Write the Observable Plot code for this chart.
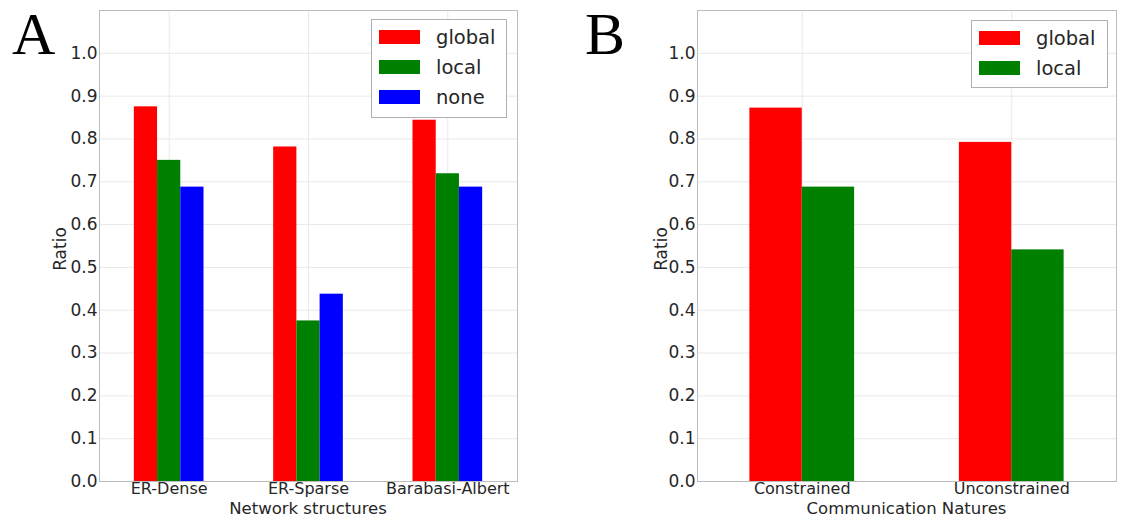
<!DOCTYPE html>
<html>
<head>
<meta charset="utf-8">
<script src="https://cdn.jsdelivr.net/npm/d3@7"></script>
<script src="https://cdn.jsdelivr.net/npm/@observablehq/plot@0.6"></script>
<style>
  html, body { margin: 0; padding: 0; background: #fff; }
  #root { position: relative; width: 1121px; height: 519px; overflow: hidden; font-family: "DejaVu Sans", sans-serif; color: #262626; }
  .panel { position: absolute; top: 0; }
  .letter { position: absolute; font-family: "Liberation Serif", "DejaVu Serif", serif; font-size: 60px; line-height: 1; color: #000; }
  .xlab { position: absolute; font-size: 16.5px; line-height: 16.5px; text-align: center; white-space: nowrap; }
  .ylab { position: absolute; font-size: 17px; line-height: 17px; white-space: nowrap; transform: translate(-50%, -50%) rotate(-90deg); }
  .legend { position: absolute; border: 1px solid #b0b0b0; background: #fff; box-sizing: border-box; }
  .lrow { position: absolute; display: flex; align-items: center; font-size: 19.5px; white-space: nowrap; }
  .sw { width: 41px; height: 14px; margin-right: 16px; }
</style>
</head>
<body>
<div id="root"></div>
<script>
// ---- data ----
const seriesA = ["global", "local", "none"];
const categoriesA = ["ER-Dense", "ER-Sparse", "Barabasi-Albert"];
const globalA = [0.875, 0.78125, 0.84375];
const localA  = [0.75, 0.375, 0.71875];
const noneA   = [0.6875, 0.4375, 0.6875];

const seriesB = ["global", "local"];
const categoriesB = ["Constrained", "Unconstrained"];
const globalB = [0.872, 0.792];
const localB  = [0.6875, 0.541];

const yTicks = [0, 0.1, 0.2, 0.3, 0.4, 0.5, 0.6, 0.7, 0.8, 0.9, 1.0];
const colors = { global: "#ff0000", local: "#008000", none: "#0000ff" };

// ---- build ----
function rows(categories, series, valueArrays) {
  const m = series.length, out = [];
  categories.forEach((c, i) => {
    series.forEach((s, j) => {
      const x1 = i - 0.25 + j * 0.5 / m;
      out.push({ category: c, series: s, x1, x2: x1 + 0.5 / m, value: valueArrays[j][i] });
    });
  });
  return out;
}

function panel(categories, series, valueArrays, opts) {
  const data = rows(categories, series, valueArrays);
  const idx = categories.map((_, i) => i);
  return Plot.plot({
    width: opts.width,
    height: 519,
    marginLeft: opts.marginLeft,
    marginRight: opts.marginRight,
    marginTop: 10,
    marginBottom: 38,
    style: { fontSize: "17px", fontFamily: "DejaVu Sans, sans-serif", color: "#262626", background: "transparent" },
    x: { type: "linear", domain: [-0.5, categories.length - 0.5] },
    y: { domain: [0, 1.1] },
    color: { domain: Object.keys(colors), range: Object.values(colors) },
    marks: [
      Plot.gridY(yTicks, { stroke: "#e9e9e9", strokeOpacity: 1 }),
      Plot.gridX(idx, { stroke: "#e9e9e9", strokeOpacity: 1 }),
      Plot.rectY(data, { x1: "x1", x2: "x2", y1: 0, y2: "value", fill: "series" }),
      Plot.frame({ stroke: "#bdbdbd" }),
      Plot.axisY(yTicks, { tickFormat: d3.format(".1f"), tickSize: 0, tickPadding: 2, label: null }),
      Plot.axisX(idx, { tickFormat: i => categories[i], tickSize: 0, tickPadding: 1, fontSize: 16, label: null })
    ]
  });
}

const root = document.getElementById("root");

function addPanel(left, width, marginLeft, marginRight, categories, series, vals, letter, letterLeft, xlabel, ylabelX, legendBox, legendSwLeft) {
  const div = document.createElement("div");
  div.className = "panel";
  div.style.left = left + "px";
  div.appendChild(panel(categories, series, vals, { width, marginLeft, marginRight }));
  root.appendChild(div);

  const L = document.createElement("div");
  L.className = "letter";
  L.style.left = letterLeft + "px";
  L.style.top = "4px";
  L.textContent = letter;
  root.appendChild(L);

  const frameL = left + marginLeft, frameR = left + width - marginRight;
  const xl = document.createElement("div");
  xl.className = "xlab";
  xl.style.left = frameL + "px";
  xl.style.width = (frameR - frameL) + "px";
  xl.style.top = "500.8px";
  xl.textContent = xlabel;
  root.appendChild(xl);

  const yl = document.createElement("div");
  yl.className = "ylab";
  yl.style.left = ylabelX + "px";
  yl.style.top = "249px";
  yl.textContent = "Ratio";
  root.appendChild(yl);

  const lg = document.createElement("div");
  lg.className = "legend";
  lg.style.left = legendBox[0] + "px";
  lg.style.top = legendBox[1] + "px";
  lg.style.width = legendBox[2] + "px";
  lg.style.height = legendBox[3] + "px";
  root.appendChild(lg);
  series.forEach((s, j) => {
    const r = document.createElement("div");
    r.className = "lrow";
    r.style.left = (legendSwLeft - legendBox[0] - 1) + "px";
    r.style.top = (5 + j * 30) + "px";
    r.style.height = "24px";
    const sw = document.createElement("div");
    sw.className = "sw";
    sw.style.background = colors[s];
    const t = document.createElement("span");
    t.textContent = s;
    r.appendChild(sw); r.appendChild(t);
    lg.appendChild(r);
  });
}

addPanel(0, 560, 99, 43, categoriesA, seriesA, [globalA, localA, noneA], "A", 12,
  "Network structures", 60, [371, 19, 136, 99], 379);
addPanel(560, 561, 137, 5, categoriesB, seriesB, [globalB, localB], "B", 585,
  "Communication Natures", 661, [971, 20, 137, 68], 979);
</script>
</body>
</html>
